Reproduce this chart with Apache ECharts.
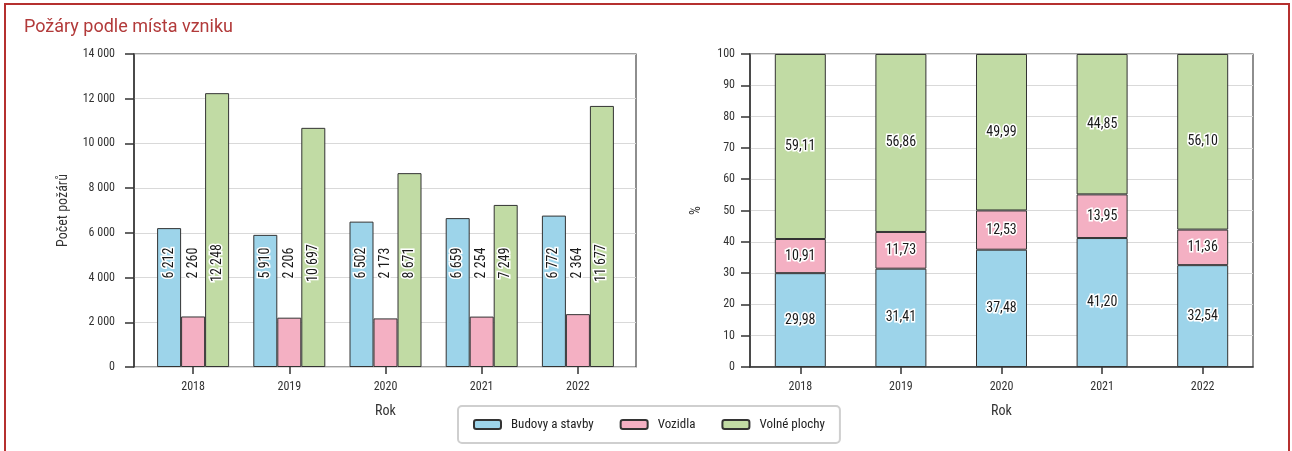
<!DOCTYPE html>
<html><head><meta charset="utf-8">
<script src="https://cdn.jsdelivr.net/npm/echarts@6/dist/echarts.min.js"></script>
<style>html,body{margin:0;padding:0;background:#fff}#c{width:1292px;height:451px}</style>
</head><body><div id="c"></div>
<script>
const years = ['2018','2019','2020','2021','2022'];
const seriesNames = ['Budovy a stavby','Vozidla','Volné plochy'];
const budovy = [6212,5910,6502,6659,6772];
const vozidla = [2260,2206,2173,2254,2364];
const volne = [12248,10697,8671,7249,11677];
const budovyPct = [29.98,31.41,37.48,41.20,32.54];
const vozidlaPct = [10.91,11.73,12.53,13.95,11.36];
const volnePct = [59.11,56.86,49.99,44.85,56.10];
const countAxis = {min:0, max:14000, interval:2000};
const pctAxis = {min:0, max:100, interval:10};

const colors = ['#9dd4ea','#f4b0c3','#c1dba4'];
const FONT = "'Roboto Condensed', Roboto, sans-serif";
const LABEL_MID = 4650; // vertical centre of the rotated value labels (in axis units)
const counts = [budovy, vozidla, volne];
const pcts = [budovyPct, vozidlaPct, volnePct];

const fmtInt = v => String(v).replace(/\B(?=(\d{3})+(?!\d))/g, ' ');
const fmtPct = v => v.toFixed(2).replace('.', ',');

const axisLine = {show:true, lineStyle:{color:'#333', width:1.5}};
const labelStyle = {color:'#1a1a1a', fontSize:14, fontFamily:FONT, textBorderColor:'#fff', textBorderWidth:3};

const chart = echarts.init(document.getElementById('c'));
const option = {
  animation:false,
  backgroundColor:'#fff',
  textStyle:{fontFamily:FONT},
  title:{text:'Požáry podle místa vzniku', left:19, top:13,
    textStyle:{color:'#b23a3a', fontSize:18, fontWeight:'normal', fontFamily:'Roboto, sans-serif'}},
  graphic:[{type:'rect', shape:{x:5, y:4, width:1284, height:470}, style:{fill:'none', stroke:'#b5302f', lineWidth:2}, silent:true}],
  legend:{data:seriesNames, left:458, top:406, itemWidth:27, itemHeight:9, itemGap:26,
    padding:[12,15,12,15], borderColor:'#cfcfcf', borderWidth:2, borderRadius:4, backgroundColor:'#fff',
    textStyle:{fontSize:13, color:'#222', fontFamily:FONT, padding:[0,0,0,5]}},
  grid:[
    {left:134, top:54, width:502, height:313, show:true, borderColor:'#444', borderWidth:1.2, backgroundColor:'transparent'},
    {left:145, top:54, width:481, height:313},
    {left:750, top:54, width:503, height:313, show:true, borderColor:'#444', borderWidth:1.2, backgroundColor:'transparent'},
    {left:145, top:54, width:481, height:313}
  ],
  xAxis:[
    {gridIndex:0, type:'value', min:0, max:1, show:false},
    {gridIndex:1, type:'category', data:years, axisLine:{show:false},
      axisTick:{show:true, alignWithLabel:true, length:7, lineStyle:{color:'#333', width:1.5}},
      axisLabel:{margin:14, fontSize:12, color:'#333', fontFamily:FONT},
      name:'Rok', nameLocation:'middle', nameGap:37, nameTextStyle:{fontSize:14, color:'#333', fontFamily:FONT}},
    {gridIndex:2, type:'category', data:years, axisLine:axisLine,
      axisTick:{show:true, alignWithLabel:true, length:7, lineStyle:{color:'#333', width:1.5}},
      axisLabel:{margin:14, fontSize:12, color:'#333', fontFamily:FONT},
      name:'Rok', nameLocation:'middle', nameGap:37, nameTextStyle:{fontSize:14, color:'#333', fontFamily:FONT}},
    {gridIndex:3, type:'category', data:years, show:false}
  ],
  yAxis:[
    {gridIndex:0, type:'value', min:countAxis.min, max:countAxis.max, interval:countAxis.interval,
      axisLine:axisLine, axisTick:{show:true, length:9, lineStyle:{color:'#333', width:1.5}},
      splitLine:{lineStyle:{color:'#d9d9d9', width:1.2}},
      axisLabel:{formatter:fmtInt, margin:19, fontSize:12, color:'#333', fontFamily:FONT},
      name:'Počet požárů', nameLocation:'middle', nameGap:64, nameTextStyle:{fontSize:14, color:'#333', fontFamily:FONT}},
    {gridIndex:1, type:'value', min:countAxis.min, max:countAxis.max, show:false},
    {gridIndex:2, type:'value', min:pctAxis.min, max:pctAxis.max, interval:pctAxis.interval,
      axisLine:axisLine, axisTick:{show:true, length:9, lineStyle:{color:'#333', width:1.5}},
      splitLine:{lineStyle:{color:'#d9d9d9', width:1.2}},
      axisLabel:{margin:15, fontSize:12, color:'#333', fontFamily:FONT},
      name:'%', nameLocation:'middle', nameGap:47, nameTextStyle:{fontSize:14, color:'#333', fontFamily:FONT}},
    {gridIndex:3, type:'value', min:countAxis.min, max:countAxis.max, show:false}
  ],
  series:[]
};

seriesNames.forEach((name, k) => {
  option.series.push({
    name, type:'bar', xAxisIndex:1, yAxisIndex:1, data:counts[k], barWidth:24, barGap:'0%',
    itemStyle:{color:colors[k], borderColor:'#333', borderWidth:1}
  });
});
seriesNames.forEach((name, k) => {
  option.series.push({
    name:'lbl'+k, type:'bar', xAxisIndex:3, yAxisIndex:3, data:years.map(() => LABEL_MID*2),
    barWidth:24, barGap:'0%', silent:true, z:10,
    itemStyle:{color:'rgba(0,0,0,0)'},
    label:Object.assign({show:true, position:'inside', rotate:90,
      formatter:p => fmtInt(counts[k][p.dataIndex])}, labelStyle)
  });
});
seriesNames.forEach((name, k) => {
  option.series.push({
    name, type:'bar', stack:'pct', xAxisIndex:2, yAxisIndex:2, data:pcts[k], barWidth:51,
    itemStyle:{color:colors[k], borderColor:'#333', borderWidth:1},
    label:Object.assign({show:true, position:'inside', formatter:p => fmtPct(p.value)}, labelStyle)
  });
});

chart.setOption(option);
</script></body></html>
